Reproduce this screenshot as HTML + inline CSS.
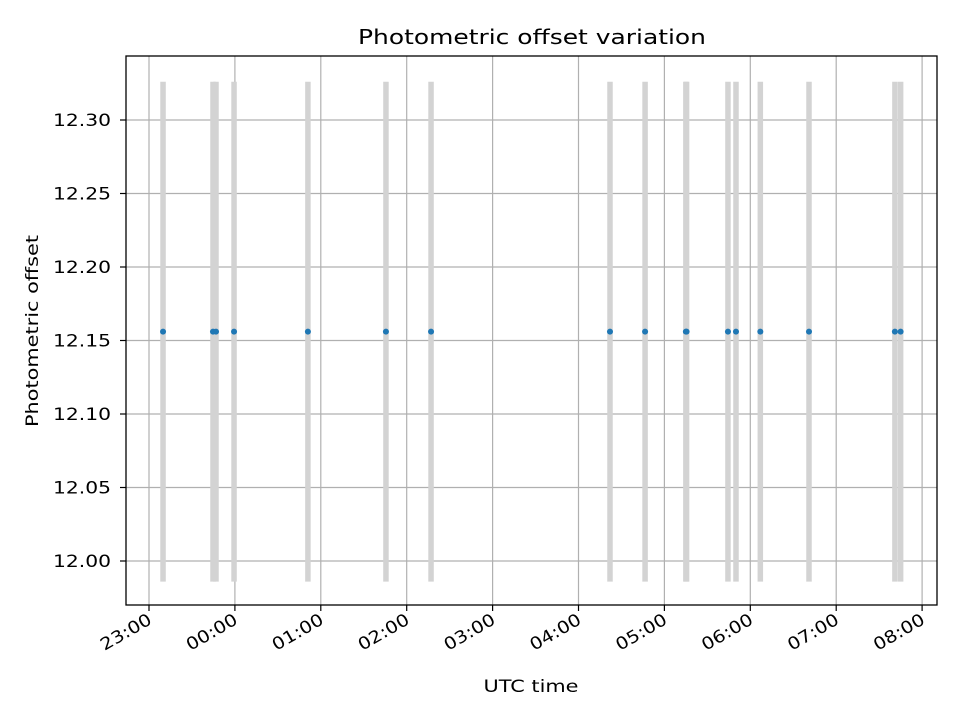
<!DOCTYPE html>
<html><head><meta charset="utf-8"><style>
body{margin:0;background:#fff;}
svg{display:block;font-family:"DejaVu Sans","Liberation Sans",sans-serif;}
</style></head><body>
<svg id="chart" width="960" height="720">
<rect width="960" height="720" fill="#fff"/>
<g id="grid"></g><g id="bars"></g><g id="pts"></g><g id="axes"></g>
<text x="532" y="44" font-size="20" text-anchor="middle" textLength="348" lengthAdjust="spacingAndGlyphs">Photometric offset variation</text>
<text x="531" y="692" font-size="17" text-anchor="middle" textLength="95" lengthAdjust="spacingAndGlyphs">UTC time</text>
<text transform="translate(38,331) rotate(-90)" font-size="17" text-anchor="middle" textLength="192" lengthAdjust="spacingAndGlyphs">Photometric offset</text>
</svg>
<script>
// minutes after 23:00
const times=[9.8,44.7,46.8,59.4,111,165.5,197,322,346.5,375,375.5,404.4,410,427,461,521,525];
const values=[12.156,12.156,12.156,12.156,12.156,12.156,12.156,12.156,12.156,12.156,12.156,12.156,12.156,12.156,12.156,12.156,12.156];
const errors=[0.170,0.170,0.170,0.170,0.170,0.170,0.170,0.170,0.170,0.170,0.170,0.170,0.170,0.170,0.170,0.170,0.170];
const xTickLabels=["23:00","00:00","01:00","02:00","03:00","04:00","05:00","06:00","07:00","08:00"];
const yTicks=[12.00,12.05,12.10,12.15,12.20,12.25,12.30];
const L=126,R=937,T=56,B=605;
const x=m=>149+m*(85.9/60);
const y=v=>561-(v-12.00)*1470;
const NS="http://www.w3.org/2000/svg";
function mk(tag,attrs,parent){const e=document.createElementNS(NS,tag);for(const k in attrs)e.setAttribute(k,attrs[k]);document.getElementById(parent).appendChild(e);return e;}
yTicks.forEach(v=>{
 const g=mk('line',{x1:L,x2:R,y1:y(v),y2:y(v),stroke:'#b0b0b0','stroke-width':1.2},'grid');
 
 
 const t=mk('line',{x1:L-6,x2:L,y1:y(v),y2:y(v),stroke:'#000','stroke-width':1.2},'axes');
 
 
 const tx=mk('text',{x:L-15,y:y(v)+6,'font-size':17,'text-anchor':'end',textLength:58,lengthAdjust:'spacingAndGlyphs'},'axes');
 tx.textContent=v.toFixed(2);
 
 
});
xTickLabels.forEach((s,i)=>{
 const xx=x(i*60);
 const g=mk('line',{x1:xx,x2:xx,y1:T,y2:B,stroke:'#b0b0b0','stroke-width':1.2},'grid');
 
 
 const t=mk('line',{x1:xx,x2:xx,y1:B,y2:B+6,stroke:'#000','stroke-width':1.2},'axes');
 
 
 const tx=mk('text',{transform:`translate(${xx+4},${B+18}) rotate(-30)`,'font-size':17,'text-anchor':'end',textLength:56,lengthAdjust:'spacingAndGlyphs'},'axes');
 tx.textContent=s;
 
 
});
times.forEach((m,i)=>{
 const b=mk('line',{x1:x(m),x2:x(m),y1:y(values[i]+errors[i]),y2:y(values[i]-errors[i]),stroke:'#d3d3d3','stroke-width':5.5},'bars');
 
 
});
times.forEach((m,i)=>{
 const p=mk('circle',{cx:x(m),cy:y(values[i]),r:3,fill:'#1f77b4'},'pts');
 
 
});
const fr=mk('rect',{x:L,y:T,width:R-L,height:B-T,fill:'none',stroke:'#000','stroke-width':1.3},'axes');


</script>
</body></html>
